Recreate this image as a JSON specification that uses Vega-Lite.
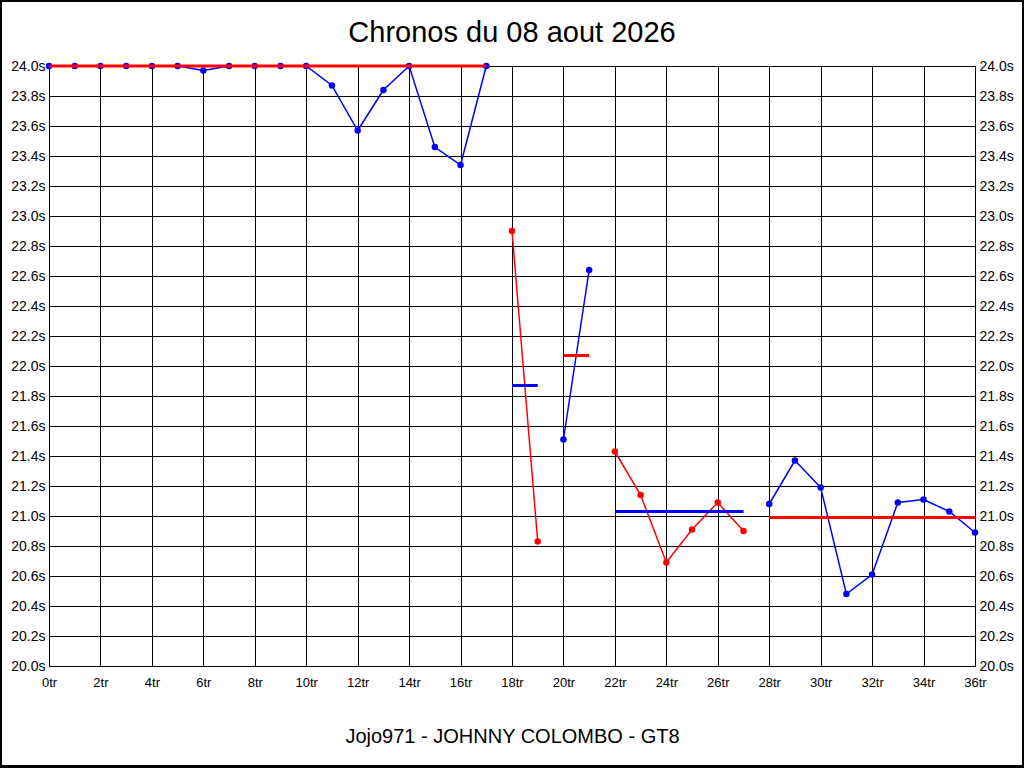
{
  "$schema": "https://vega.github.io/schema/vega-lite/v6.json",
  "autosize": {"type": "none"},
  "width": 926,
  "height": 600,
  "padding": {"left": 49, "top": 66, "right": 49, "bottom": 102},
  "background": "white",
  "config": {
    "font": "Liberation Sans",
    "view": {"stroke": "black"},
    "axis": {"domain": false, "ticks": false, "gridColor": "black", "gridOpacity": 1, "gridWidth": 1, "labelFont": "Liberation Sans", "labelFontSize": 14, "labelColor": "black"}
  },
  "title": {"text": "Chronos du 08 aout 2026", "fontSize": 29, "fontWeight": "normal", "color": "black", "baseline": "alphabetic", "offset": -71, "anchor": "middle", "frame": "group"},
  "datasets": {
    "tours": [
      {"tour": 0, "temps": 24.0, "relais": 1},
      {"tour": 1, "temps": 24.0, "relais": 1},
      {"tour": 2, "temps": 24.0, "relais": 1},
      {"tour": 3, "temps": 24.0, "relais": 1},
      {"tour": 4, "temps": 24.0, "relais": 1},
      {"tour": 5, "temps": 24.0, "relais": 1},
      {"tour": 6, "temps": 23.97, "relais": 1},
      {"tour": 7, "temps": 24.0, "relais": 1},
      {"tour": 8, "temps": 24.0, "relais": 1},
      {"tour": 9, "temps": 24.0, "relais": 1},
      {"tour": 10, "temps": 24.0, "relais": 1},
      {"tour": 11, "temps": 23.87, "relais": 1},
      {"tour": 12, "temps": 23.57, "relais": 1},
      {"tour": 13, "temps": 23.84, "relais": 1},
      {"tour": 14, "temps": 24.0, "relais": 1},
      {"tour": 15, "temps": 23.46, "relais": 1},
      {"tour": 16, "temps": 23.34, "relais": 1},
      {"tour": 17, "temps": 24.0, "relais": 1},
      {"tour": 18, "temps": 22.90, "relais": 2},
      {"tour": 19, "temps": 20.83, "relais": 2},
      {"tour": 20, "temps": 21.51, "relais": 3},
      {"tour": 21, "temps": 22.64, "relais": 3},
      {"tour": 22, "temps": 21.43, "relais": 4},
      {"tour": 23, "temps": 21.14, "relais": 4},
      {"tour": 24, "temps": 20.69, "relais": 4},
      {"tour": 25, "temps": 20.91, "relais": 4},
      {"tour": 26, "temps": 21.09, "relais": 4},
      {"tour": 27, "temps": 20.90, "relais": 4},
      {"tour": 28, "temps": 21.08, "relais": 5},
      {"tour": 29, "temps": 21.37, "relais": 5},
      {"tour": 30, "temps": 21.19, "relais": 5},
      {"tour": 31, "temps": 20.48, "relais": 5},
      {"tour": 32, "temps": 20.61, "relais": 5},
      {"tour": 33, "temps": 21.09, "relais": 5},
      {"tour": 34, "temps": 21.11, "relais": 5},
      {"tour": 35, "temps": 21.03, "relais": 5},
      {"tour": 36, "temps": 20.89, "relais": 5}
    ],
    "moyennes": [
      {"relais": 1, "debut": 0, "fin": 17, "moyenne": 24.0},
      {"relais": 2, "debut": 18, "fin": 19, "moyenne": 21.87},
      {"relais": 3, "debut": 20, "fin": 21, "moyenne": 22.07},
      {"relais": 4, "debut": 22, "fin": 27, "moyenne": 21.03},
      {"relais": 5, "debut": 28, "fin": 36, "moyenne": 20.99}
    ]
  },
  "layer": [
    {
      "data": {"name": "tours"},
      "encoding": {
        "x": {
          "field": "tour", "type": "quantitative",
          "scale": {"domain": [0, 36], "nice": false, "zero": false},
          "axis": {
            "title": "Jojo971 - JOHNNY COLOMBO - GT8",
            "titleFontSize": 20, "titleFontWeight": "normal", "titleColor": "black",
            "titleY": 76, "titleBaseline": "alphabetic",
            "values": [0,1,2,3,4,5,6,7,8,9,10,11,12,13,14,15,16,17,18,19,20,21,22,23,24,25,26,27,28,29,30,31,32,33,34,35,36],
            "labelExpr": "datum.value % 2 === 0 ? datum.value + 'tr' : ''",
            "labelFontSize": 13,
            "labelOverlap": false, "labelFlush": false, "labelPadding": 10,
            "grid": true
          }
        },
        "y": {
          "field": "temps", "type": "quantitative",
          "scale": {"domain": [20, 24], "nice": false, "zero": false},
          "axis": {
            "title": null, "orient": "left",
            "values": [20, 20.2, 20.4, 20.6, 20.8, 21, 21.2, 21.4, 21.6, 21.8, 22, 22.2, 22.4, 22.6, 22.8, 23, 23.2, 23.4, 23.6, 23.8, 24],
            "labelExpr": "format(datum.value, '.1f') + 's'",
            "labelOverlap": false, "labelFlush": false, "labelPadding": 4,
            "grid": true
          }
        },
        "color": {
          "field": "relais", "type": "nominal",
          "scale": {"domain": [1, 2, 3, 4, 5], "range": ["#0000ff", "#ff0000", "#0000ff", "#ff0000", "#0000ff"]},
          "legend": null
        }
      },
      "layer": [
        {"mark": {"type": "line", "strokeWidth": 1.5, "clip": false}, "encoding": {"detail": {"field": "relais"}}},
        {"mark": {"type": "circle", "size": 42, "opacity": 1, "clip": false}},
        {
          "mark": {"type": "rect", "fill": null, "stroke": "black", "strokeWidth": 1.5, "clip": false},
          "encoding": {
            "x": {"datum": -1.885},
            "x2": {"datum": 37.86},
            "y": {"datum": 24.437},
            "y2": {"datum": 19.33},
            "color": {"value": null}
          }
        }
      ]
    },
    {
      "data": {"name": "moyennes"},
      "mark": {"type": "rule", "strokeWidth": 3, "clip": false},
      "encoding": {
        "x": {"field": "debut", "type": "quantitative", "scale": {"domain": [0, 36], "nice": false, "zero": false}},
        "x2": {"field": "fin"},
        "y": {
          "field": "moyenne", "type": "quantitative",
          "scale": {"domain": [20, 24], "nice": false, "zero": false},
          "axis": {
            "title": null, "orient": "right",
            "values": [20, 20.2, 20.4, 20.6, 20.8, 21, 21.2, 21.4, 21.6, 21.8, 22, 22.2, 22.4, 22.6, 22.8, 23, 23.2, 23.4, 23.6, 23.8, 24],
            "labelExpr": "format(datum.value, '.1f') + 's'",
            "labelOverlap": false, "labelFlush": false, "labelPadding": 4,
            "grid": false
          }
        },
        "stroke": {
          "field": "relais", "type": "nominal",
          "scale": {"domain": [1, 2, 3, 4, 5], "range": ["#ff0000", "#0000ff", "#ff0000", "#0000ff", "#ff0000"]},
          "legend": null
        }
      }
    }
  ],
  "resolve": {"scale": {"y": "independent"}, "axis": {"y": "independent"}}
}
